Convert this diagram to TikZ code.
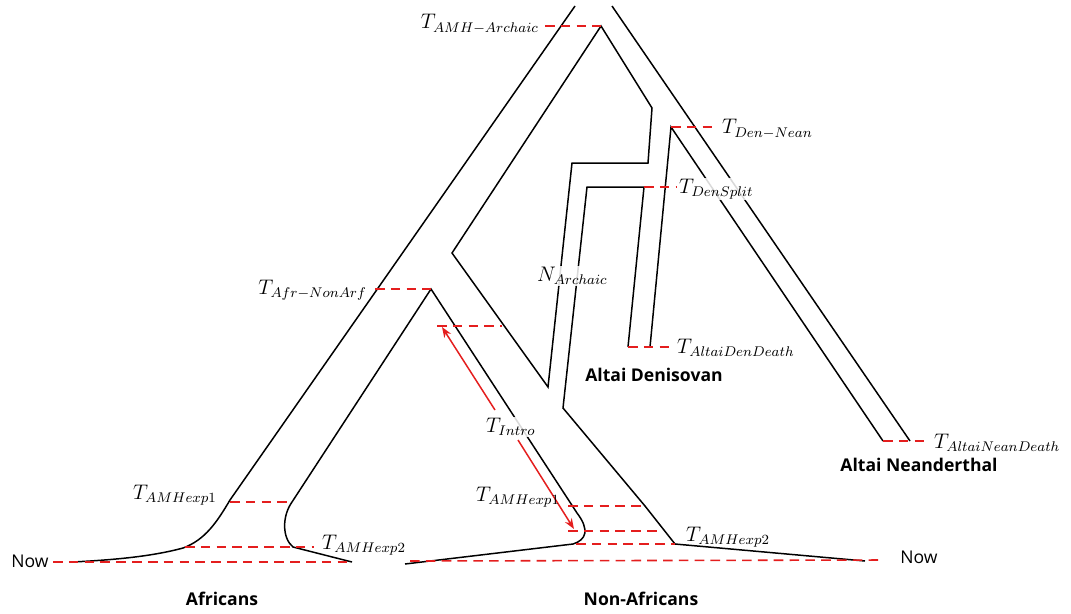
\documentclass[tikz,border=0pt]{standalone}
\usepackage{fontspec}
\newfontfamily\labfont{Open Sans}
\usetikzlibrary{arrows.meta}
\definecolor{dred}{RGB}{228,30,30}
\begin{document}
\begin{tikzpicture}[x=0.02cm,y=-0.02cm,
  branch/.style={line width=0.85pt, black, line join=miter},
  tdash/.style={dred, line width=0.9pt, dash pattern=on 5.5pt off 3.5pt},
  introarrow/.style={dred, line width=0.85pt, -{Stealth[length=6pt,width=4.5pt]}},
  tlab/.style={inner sep=0.5pt, font=\fontsize{12}{14}\selectfont},
  coverlab/.style={tlab, fill=white, fill opacity=0.85, text opacity=1},
  poplab/.style={font=\labfont\bfseries\fontsize{10}{12}\selectfont, inner sep=0pt},
  nowlab/.style={font=\labfont\fontsize{10}{12}\selectfont, inner sep=0pt}]
\useasboundingbox (0,0) rectangle (1071,613);

% branch coordinates
\coordinate (olTop) at (575,6);
\coordinate (olKnee) at (230,500);
\coordinate (olFoot) at (183,548);
\coordinate (olEnd) at (73,562);
\coordinate (afrApex) at (431,289);
\coordinate (afrR1) at (292,502);
\coordinate (afrR2) at (293,547);
\coordinate (afrREnd) at (352,562);
\coordinate (amhApex) at (601,26);
\coordinate (amhInV) at (452,253);
\coordinate (archV) at (548,387);
\coordinate (archTL) at (572,163);
\coordinate (archTR) at (648,163);
\coordinate (archElbow) at (652,108);
\coordinate (denTL) at (587,187);
\coordinate (denSplit) at (644,187);
\coordinate (denBL) at (628,347);
\coordinate (archBR) at (563,408);
\coordinate (nafR1) at (645,506);
\coordinate (nafR2) at (675,544);
\coordinate (nafREnd) at (865,561);
\coordinate (denNean) at (671,127);
\coordinate (denBR) at (650,347);
\coordinate (neanBL) at (883,441);
\coordinate (orTop) at (612,6);
\coordinate (orEnd) at (910,441);
\coordinate (nafL1) at (577,513);
\coordinate (nafL2) at (573,544);
\coordinate (nafLEnd) at (405,564);

% branches
\draw[branch] (olTop) -- (olKnee) .. controls (217,522) and (205,540) .. (olFoot) .. controls (150,557) and (110,560) .. (olEnd);
\draw[branch] (afrREnd) -- (afrR2) .. controls (282,538) and (282,516) .. (afrR1) -- (afrApex) -- (nafL1) .. controls (590,530) and (586,540) .. (nafL2) -- (nafLEnd);
\draw[branch] (amhApex) -- (amhInV) -- (archV) -- (archTL) -- (archTR) -- (archElbow) -- cycle;
\draw[branch] (denBL) -- (denSplit) -- (denTL) -- (archBR) -- (nafR1) -- (nafR2) -- (nafREnd);
\draw[branch] (denBR) -- (denNean) -- (neanBL);
\draw[branch] (orTop) -- (orEnd);

% dashed time markers
\coordinate (dA) at (545,26);
\coordinate (dB) at (715,127);
\coordinate (dC) at (677,187);
\coordinate (dD) at (375,289);
\coordinate (dE1) at (437,326);
\coordinate (dE2) at (502,326);
\coordinate (dF) at (673,347);
\coordinate (dG) at (928,441);
\coordinate (dH1) at (230,502);
\coordinate (dH2) at (290,502);
\coordinate (dI1) at (185,547);
\coordinate (dI2) at (314,547);
\coordinate (dJ1) at (53,562);
\coordinate (dJ2) at (352,562);
\coordinate (dK1) at (568,506);
\coordinate (dK2) at (645,506);
\coordinate (dL1) at (568,531);
\coordinate (dL2) at (660,531);
\coordinate (dM1) at (576,544);
\coordinate (dM2) at (675,544);
\coordinate (dN1) at (410,561);
\coordinate (dN2) at (884,560);

\draw[tdash] (dA) -- (amhApex);
\draw[tdash] (denNean) -- (dB);
\draw[tdash] (denSplit) -- (dC);
\draw[tdash] (dD) -- (afrApex);
\draw[tdash] (dE1) -- (dE2);
\draw[tdash] (denBL) -- (dF);
\draw[tdash] (neanBL) -- (dG);
\draw[tdash] (dH1) -- (dH2);
\draw[tdash] (dI1) -- (dI2);
\draw[tdash] (dJ1) -- (dJ2);
\draw[tdash] (dK1) -- (dK2);
\draw[tdash] (dL1) -- (dL2);
\draw[tdash] (dM1) -- (dM2);
\draw[tdash] (dN1) -- (dN2);

% introgression arrows
\coordinate (inUpTail) at (495,410);
\coordinate (inUpTip) at (442,327);
\coordinate (inDnTail) at (518,440);
\coordinate (inDnTip) at (574,529);
\draw[introarrow] (inUpTail) -- (inUpTip);
\draw[introarrow] (inDnTail) -- (inDnTip);

% time labels
\node[tlab, anchor=east] (lAMHArch) at (540,24) {$T_{AMH-Archaic}$};
\node[tlab, anchor=west] (lDenNean) at (721,129) {$T_{Den-Nean}$};
\node[coverlab, anchor=west] (lDenSplit) at (678,189) {$T_{DenSplit}$};
\node[coverlab, anchor=west] (lNArch) at (536,276) {$N_{Archaic}$};
\node[tlab, anchor=east] (lAfrNon) at (368,290) {$T_{Afr-NonArf}$};
\node[tlab, anchor=west] (lDenDeath) at (676,348) {$T_{AltaiDenDeath}$};
\node[tlab, anchor=west] (lNeanDeath) at (933,443) {$T_{AltaiNeanDeath}$};
\node[coverlab, anchor=west] (lIntro) at (485,427) {$T_{Intro}$};
\node[tlab, anchor=east] (lExp1A) at (218,495) {$T_{AMHexp1}$};
\node[tlab, anchor=west] (lExp2A) at (321,545) {$T_{AMHexp2}$};
\node[tlab, anchor=west] (lExp1N) at (475,497) {$T_{AMHexp1}$};
\node[tlab, anchor=west] (lExp2N) at (685,537) {$T_{AMHexp2}$};

% now labels
\node[nowlab, anchor=west] (nowL) at (11,561) {Now};
\node[nowlab, anchor=west] (nowR) at (900,557) {Now};

% population labels
\node[poplab] (pAfr) at (222,599) {Africans};
\node[poplab] (pNon) at (641,599) {Non-Africans};
\node[poplab] (pDen) at (654,375) {Altai Denisovan};
\node[poplab] (pNean) at (919,465) {Altai Neanderthal};
\end{tikzpicture}
\end{document}
